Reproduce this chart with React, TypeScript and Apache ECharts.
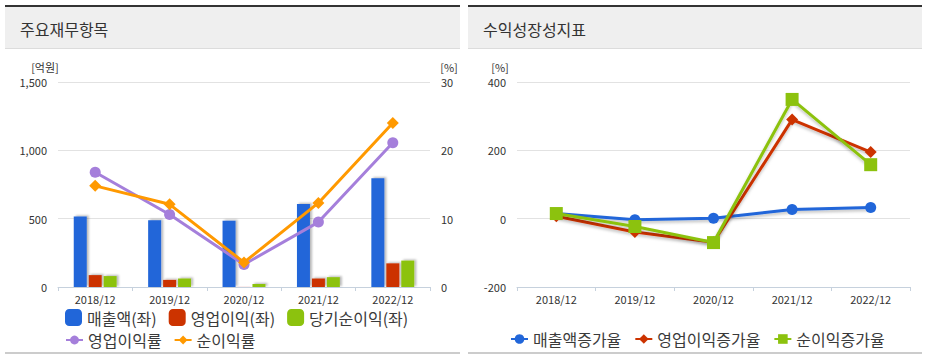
import React, { useEffect, useRef } from "react";
import * as echarts from "echarts";

const categories = ["2018/12", "2019/12", "2020/12", "2021/12", "2022/12"];

// 주요재무항목 (억원)
const sales = [515, 488, 485, 607, 795];
const operatingProfit = [87, 52, 0.5, 62, 173];
const netProfit = [80, 62, 22, 72, 193];
// (%)
const operatingMargin = [16.8, 10.6, 3.3, 9.5, 21.1];
const netMargin = [14.8, 12.1, 3.6, 12.3, 24.0];

// 수익성장성지표 (%)
const salesGrowth = [15, -3, 1, 27, 33];
const opGrowth = [7, -39, -69, 290, 195];
const netGrowth = [15, -23, -70, 349, 158];

const leftTicks = [0, 500, 1000, 1500];
const rightTicks = [0, 10, 20, 30];
const growthTicks = [-200, 0, 200, 400];

const BLUE = "#2166d9";
const RED = "#cc3300";
const GREEN = "#8cc20e";
const PURPLE = "#a57fdb";
const ORANGE = "#ff9900";
const FONT = "'Noto Sans CJK KR', 'Noto Sans', sans-serif";

export default function App() {
  const ref = useRef<HTMLDivElement>(null);

  useEffect(() => {
    document.body.style.margin = "0";
    if (!ref.current) return;
    const chart = echarts.init(ref.current, undefined, { renderer: "svg" });

    const axisLabel = { color: "#333", fontSize: 11, fontFamily: FONT };
    const legendText = { color: "#3a3a3a", fontSize: 16, fontFamily: FONT };
    const barShadow = {
      shadowColor: "rgba(0,0,0,0.28)",
      shadowBlur: 2,
      shadowOffsetX: 2,
      shadowOffsetY: -1,
    };
    const lineShadow = {
      shadowColor: "rgba(0,0,0,0.25)",
      shadowBlur: 3,
      shadowOffsetY: 2,
    };
    const xAxisCommon = {
      type: "category" as const,
      data: categories,
      boundaryGap: true,
      axisLine: { onZero: false, lineStyle: { color: "#c6d1dd", width: 1 } },
      axisTick: { show: true, alignWithLabel: false, length: 4, lineStyle: { color: "#c6d1dd" } },
      axisLabel: { ...axisLabel, margin: 6 },
    };

    chart.setOption({
      animation: false,
      textStyle: { fontFamily: FONT },
      graphic: [
        // left panel
        { type: "rect", shape: { x: 5, y: 6, width: 455, height: 42 }, style: { fill: "#efefef" } },
        { type: "rect", shape: { x: 5, y: 5, width: 455, height: 2 }, style: { fill: "#333" } },
        { type: "rect", shape: { x: 5, y: 48, width: 455, height: 1 }, style: { fill: "#dcdcdc" } },
        { type: "text", x: 20, y: 29, style: { text: "주요재무항목", fill: "#333", font: `16px ${FONT}`, verticalAlign: "middle" } },
        { type: "rect", shape: { x: 5, y: 352, width: 455, height: 2 }, style: { fill: "#cccccc" } },
        { type: "text", x: 45, y: 67, style: { text: "[억원]", fill: "#333", font: `11px ${FONT}`, align: "center", verticalAlign: "middle" } },
        { type: "text", x: 449, y: 67, style: { text: "[%]", fill: "#333", font: `11px ${FONT}`, align: "center", verticalAlign: "middle" } },
        // right panel
        { type: "rect", shape: { x: 468, y: 6, width: 454, height: 42 }, style: { fill: "#efefef" } },
        { type: "rect", shape: { x: 468, y: 5, width: 454, height: 2 }, style: { fill: "#333" } },
        { type: "rect", shape: { x: 468, y: 48, width: 454, height: 1 }, style: { fill: "#dcdcdc" } },
        { type: "text", x: 483, y: 29, style: { text: "수익성장성지표", fill: "#333", font: `16px ${FONT}`, verticalAlign: "middle" } },
        { type: "rect", shape: { x: 468, y: 352, width: 454, height: 2 }, style: { fill: "#cccccc" } },
        { type: "text", x: 500, y: 67, style: { text: "[%]", fill: "#333", font: `11px ${FONT}`, align: "center", verticalAlign: "middle" } },
      ],
      grid: [
        { left: 58, right: 500, top: 82, bottom: 70 },
        { left: 517, right: 20, top: 82, bottom: 70 },
      ],
      xAxis: [
        { ...xAxisCommon, gridIndex: 0 },
        { ...xAxisCommon, gridIndex: 1 },
      ],
      yAxis: [
        {
          type: "value",
          gridIndex: 0,
          min: leftTicks[0],
          max: leftTicks[leftTicks.length - 1],
          interval: 500,
          axisLine: { show: false },
          axisTick: { show: false },
          splitLine: { lineStyle: { color: "#e2e2e2", width: 1 } },
          axisLabel: {
            ...axisLabel,
            margin: 11,
            formatter: (v: number) => v.toLocaleString("en-US"),
          },
        },
        {
          type: "value",
          gridIndex: 0,
          position: "right",
          min: rightTicks[0],
          max: rightTicks[rightTicks.length - 1],
          interval: 10,
          axisLine: { show: false },
          axisTick: { show: false },
          splitLine: { show: false },
          axisLabel: { ...axisLabel, margin: 11 },
        },
        {
          type: "value",
          gridIndex: 1,
          min: growthTicks[0],
          max: growthTicks[growthTicks.length - 1],
          interval: 200,
          axisLine: { show: false },
          axisTick: { show: false },
          splitLine: { lineStyle: { color: "#e2e2e2", width: 1 } },
          axisLabel: { ...axisLabel, margin: 11 },
        },
      ],
      legend: [
        {
          left: 60,
          top: 304,
          itemWidth: 17,
          itemHeight: 17,
          itemGap: 12,
          icon: "roundRect",
          textStyle: legendText,
          data: ["매출액(좌)", "영업이익(좌)", "당기순이익(좌)"],
        },
        {
          left: 60,
          top: 327,
          itemWidth: 17,
          itemHeight: 11,
          itemGap: 12,
          textStyle: legendText,
          data: ["영업이익률", "순이익률"],
        },
        {
          left: 505,
          top: 326,
          itemWidth: 17,
          itemHeight: 12,
          itemGap: 13,
          textStyle: legendText,
          data: ["매출액증가율", "영업이익증가율", "순이익증가율"],
        },
      ],
      series: [
        {
          name: "매출액(좌)",
          type: "bar",
          xAxisIndex: 0,
          yAxisIndex: 0,
          data: sales,
          barWidth: 13,
          barGap: "15%",
          itemStyle: { color: BLUE, ...barShadow },
        },
        {
          name: "영업이익(좌)",
          type: "bar",
          xAxisIndex: 0,
          yAxisIndex: 0,
          data: operatingProfit,
          barWidth: 13,
          barGap: "15%",
          itemStyle: { color: RED, ...barShadow },
        },
        {
          name: "당기순이익(좌)",
          type: "bar",
          xAxisIndex: 0,
          yAxisIndex: 0,
          data: netProfit,
          barWidth: 13,
          barGap: "15%",
          itemStyle: { color: GREEN, ...barShadow },
        },
        {
          name: "영업이익률",
          type: "line",
          xAxisIndex: 0,
          yAxisIndex: 1,
          data: operatingMargin,
          symbol: "circle",
          symbolSize: 11,
          lineStyle: { color: PURPLE, width: 3 },
          itemStyle: { color: PURPLE },
          z: 3,
        },
        {
          name: "순이익률",
          type: "line",
          xAxisIndex: 0,
          yAxisIndex: 1,
          data: netMargin,
          symbol: "diamond",
          symbolSize: 12,
          lineStyle: { color: ORANGE, width: 3 },
          itemStyle: { color: ORANGE },
          z: 4,
        },
        {
          name: "매출액증가율",
          type: "line",
          xAxisIndex: 1,
          yAxisIndex: 2,
          data: salesGrowth,
          symbol: "circle",
          symbolSize: 11,
          lineStyle: { color: BLUE, width: 3, ...lineShadow },
          itemStyle: { color: BLUE },
          z: 2,
        },
        {
          name: "영업이익증가율",
          type: "line",
          xAxisIndex: 1,
          yAxisIndex: 2,
          data: opGrowth,
          symbol: "diamond",
          symbolSize: 12,
          lineStyle: { color: RED, width: 3, ...lineShadow },
          itemStyle: { color: RED },
          z: 3,
        },
        {
          name: "순이익증가율",
          type: "line",
          xAxisIndex: 1,
          yAxisIndex: 2,
          data: netGrowth,
          symbol: "rect",
          symbolSize: 13,
          lineStyle: { color: GREEN, width: 3, ...lineShadow },
          itemStyle: { color: GREEN },
          z: 4,
        },
      ],
    });

    return () => chart.dispose();
  }, []);

  return <div ref={ref} style={{ width: 930, height: 357 }} />;
}
